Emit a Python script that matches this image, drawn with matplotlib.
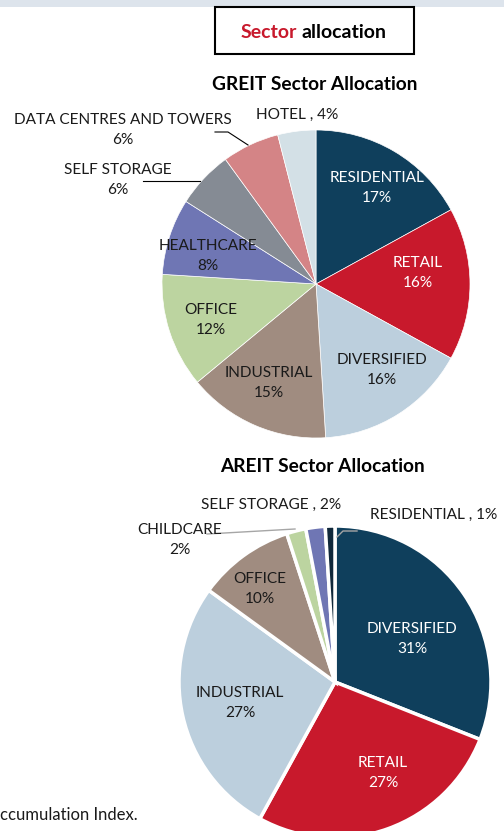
import matplotlib.pyplot as plt
from matplotlib.patches import Rectangle

plt.rcParams["font.family"] = ["Lato", "DejaVu Sans"]

W, H = 504, 831

# GREIT sector weights (%), clockwise from 12 o'clock
greit_sectors = ["RESIDENTIAL", "RETAIL", "DIVERSIFIED", "INDUSTRIAL", "OFFICE",
                 "HEALTHCARE", "SELF STORAGE", "DATA CENTRES AND TOWERS", "HOTEL"]
greit_share = [17, 16, 16, 15, 12, 8, 6, 6, 4]
greit_colors = ["#0f3f5c", "#c8192c", "#bccfdd", "#a08c80", "#bcd4a0",
                "#6f76b4", "#858b94", "#d48486", "#d3e0e6"]

# AREIT sector weights (%)
areit_sectors = ["DIVERSIFIED", "RETAIL", "INDUSTRIAL", "OFFICE", "CHILDCARE",
                 "SELF STORAGE", "RESIDENTIAL"]
areit_share = [31, 27, 27, 10, 2, 2, 1]
areit_colors = ["#0f3f5c", "#c8192c", "#bccfdd", "#a08c80", "#bcd4a0",
                "#6f76b4", "#10283a"]

# label placement (pixel coords from top-left), join style, text colour
greit_lbl = [(377, 188, "\n", "white"), (418, 273, "\n", "white"),
             (382, 370, "\n", "#1a1a1a"), (269, 383, "\n", "#1a1a1a"),
             (211, 320, "\n", "#1a1a1a"), (208, 256, "\n", "#1a1a1a"),
             (118, 180, "\n", "#1a1a1a"), (123, 130, "\n", "#1a1a1a"),
             (297, 115, " , ", "#1a1a1a")]
areit_lbl = [(412, 639, "\n", "white"), (383, 773, "\n", "white"),
             (240, 703, "\n", "#1a1a1a"), (260, 589, "\n", "#1a1a1a"),
             (180, 540, "\n", "#1a1a1a"), (271, 505, " , ", "#1a1a1a"),
             (434, 515, " , ", "#1a1a1a")]

fig = plt.figure(figsize=(W / 100, H / 100), dpi=100)
ax = fig.add_axes([0, 0, 1, 1])

# top band and header box
ax.add_patch(Rectangle((0, H - 7), W, 7, color="#dde4ec", lw=0))
ax.add_patch(Rectangle((215, H - 54), 199, 47, facecolor="white",
                       edgecolor="black", lw=1.5))
ax.text(297, H - 32, "Sector", color="#c8192c", fontsize=14,
        fontweight="bold", ha="right", va="center")
ax.text(302, H - 32, "allocation", color="black", fontsize=14,
        fontweight="bold", ha="left", va="center")

ax.text(315, H - 85, "GREIT Sector Allocation", fontsize=13.8,
        fontweight="bold", ha="center", va="center")
ax.text(322, H - 466, "AREIT Sector Allocation", fontsize=13.8,
        fontweight="bold", ha="center", va="center")

ax.pie(greit_share, colors=greit_colors, startangle=90, counterclock=False,
       radius=154, center=(316, H - 284),
       wedgeprops=dict(edgecolor="white", linewidth=0.5))
ax.pie(areit_share, colors=areit_colors, startangle=90, counterclock=False,
       radius=156, center=(335, H - 682),
       wedgeprops=dict(edgecolor="white", linewidth=2.5))

for name, val, (x, y, sep, c) in zip(greit_sectors, greit_share, greit_lbl):
    ax.text(x, H - y, f"{name}{sep}{val}%", color=c, fontsize=11.1,
            ha="center", va="center", linespacing=1.5)
for name, val, (x, y, sep, c) in zip(areit_sectors, areit_share, areit_lbl):
    ax.text(x, H - y, f"{name}{sep}{val}%", color=c, fontsize=11.1,
            ha="center", va="center", linespacing=1.5)

# leader lines
ax.plot([143, 200], [H - 181, H - 181], color="black", lw=0.8)
ax.plot([215, 228, 248], [H - 132, H - 132, H - 145], color="black", lw=0.8)
ax.plot([207, 295], [H - 534, H - 529], color="#a6a6a6", lw=1)
ax.plot([337, 343, 357], [H - 537, H - 531, H - 531], color="#a6a6a6", lw=1)

ax.text(0, H - 815, "ccumulation Index.", fontsize=12, ha="left",
        va="center", color="#1a1a1a")

ax.set_xlim(0, W)
ax.set_ylim(0, H)
ax.axis("off")

fig.savefig("out.png", dpi=100)
